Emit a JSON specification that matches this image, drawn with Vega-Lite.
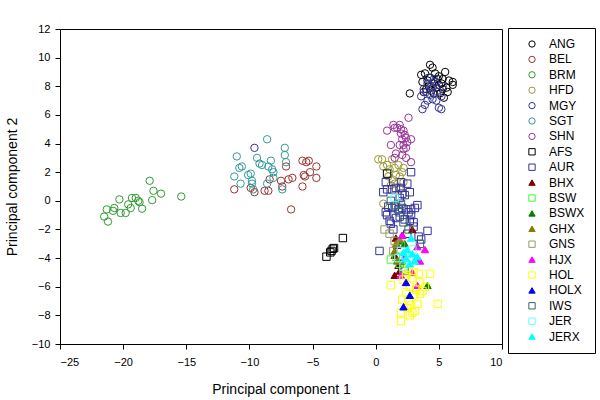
{
  "$schema": "https://vega.github.io/schema/vega-lite/v6.json",
  "width": 442,
  "height": 315,
  "autosize": {"type": "none"},
  "padding": {"left": 60, "top": 29, "right": 98, "bottom": 56},
  "background": "white",
  "config": {
    "font": "Liberation Sans",
    "view": {"stroke": "black", "strokeWidth": 1},
    "axis": {"grid": false, "domainColor": "black", "tickColor": "black", "labelColor": "black", "titleColor": "black", "labelFontSize": 11, "titleFontSize": 14, "titleFontWeight": "normal", "tickSize": 5, "labelPadding": 3}
  },
  "data": {"values": [
    {"breed":"ANG","pc1":3.6,"pc2":8.8},{"breed":"ANG","pc1":3.9,"pc2":8.9},{"breed":"ANG","pc1":4.1,"pc2":8.4},{"breed":"ANG","pc1":4.3,"pc2":9.5},{"breed":"ANG","pc1":4.5,"pc2":9.3},{"breed":"ANG","pc1":4.7,"pc2":8.9},{"breed":"ANG","pc1":5.0,"pc2":8.7},{"breed":"ANG","pc1":5.5,"pc2":9.0},{"breed":"ANG","pc1":5.3,"pc2":8.5},{"breed":"ANG","pc1":6.1,"pc2":8.3},{"breed":"ANG","pc1":6.1,"pc2":8.1},{"breed":"ANG","pc1":5.6,"pc2":7.9},{"breed":"ANG","pc1":5.3,"pc2":7.8},{"breed":"ANG","pc1":5.1,"pc2":7.5},{"breed":"ANG","pc1":4.8,"pc2":7.9},{"breed":"ANG","pc1":4.6,"pc2":8.2},{"breed":"ANG","pc1":4.0,"pc2":7.8},{"breed":"ANG","pc1":3.8,"pc2":7.6},{"breed":"ANG","pc1":4.4,"pc2":7.7},{"breed":"ANG","pc1":5.0,"pc2":8.1},{"breed":"ANG","pc1":5.8,"pc2":8.4},{"breed":"ANG","pc1":4.9,"pc2":8.5},{"breed":"ANG","pc1":5.4,"pc2":7.2},{"breed":"ANG","pc1":4.2,"pc2":8.0},{"breed":"ANG","pc1":5.2,"pc2":8.2},{"breed":"ANG","pc1":2.7,"pc2":7.5},{"breed":"ANG","pc1":3.7,"pc2":8.3},{"breed":"ANG","pc1":4.6,"pc2":7.5},{"breed":"ANG","pc1":5.7,"pc2":7.6},{"breed":"ANG","pc1":4.3,"pc2":8.6},
    {"breed":"BEL","pc1":-11.2,"pc2":0.8},{"breed":"BEL","pc1":-9.9,"pc2":0.9},{"breed":"BEL","pc1":-9.6,"pc2":0.6},{"breed":"BEL","pc1":-8.8,"pc2":0.7},{"breed":"BEL","pc1":-8.5,"pc2":0.7},{"breed":"BEL","pc1":-8.4,"pc2":1.5},{"breed":"BEL","pc1":-7.5,"pc2":1.4},{"breed":"BEL","pc1":-7.1,"pc2":2.4},{"breed":"BEL","pc1":-6.9,"pc2":1.5},{"breed":"BEL","pc1":-6.6,"pc2":1.6},{"breed":"BEL","pc1":-6.7,"pc2":-0.6},{"breed":"BEL","pc1":-5.8,"pc2":2.8},{"breed":"BEL","pc1":-5.7,"pc2":1.8},{"breed":"BEL","pc1":-5.5,"pc2":2.7},{"breed":"BEL","pc1":-5.3,"pc2":2.8},{"breed":"BEL","pc1":-5.2,"pc2":2.0},{"breed":"BEL","pc1":-5.8,"pc2":1.0},{"breed":"BEL","pc1":-5.6,"pc2":1.7},{"breed":"BEL","pc1":-4.7,"pc2":2.4},{"breed":"BEL","pc1":-4.7,"pc2":1.6},{"breed":"BEL","pc1":-7.4,"pc2":1.0},
    {"breed":"BRM","pc1":-21.5,"pc2":-1.1},{"breed":"BRM","pc1":-21.3,"pc2":-0.6},{"breed":"BRM","pc1":-21.2,"pc2":-1.45},{"breed":"BRM","pc1":-20.8,"pc2":-0.7},{"breed":"BRM","pc1":-20.7,"pc2":-0.5},{"breed":"BRM","pc1":-20.3,"pc2":0.1},{"breed":"BRM","pc1":-20.2,"pc2":-0.85},{"breed":"BRM","pc1":-19.8,"pc2":-0.85},{"breed":"BRM","pc1":-19.6,"pc2":-0.25},{"breed":"BRM","pc1":-19.4,"pc2":-0.5},{"breed":"BRM","pc1":-19.3,"pc2":0.2},{"breed":"BRM","pc1":-19.0,"pc2":0.2},{"breed":"BRM","pc1":-18.8,"pc2":0.0},{"breed":"BRM","pc1":-18.7,"pc2":-0.1},{"breed":"BRM","pc1":-18.5,"pc2":-0.55},{"breed":"BRM","pc1":-17.9,"pc2":1.4},{"breed":"BRM","pc1":-17.7,"pc2":0.05},{"breed":"BRM","pc1":-17.6,"pc2":0.7},{"breed":"BRM","pc1":-17.0,"pc2":0.5},{"breed":"BRM","pc1":-15.4,"pc2":0.3},
    {"breed":"HFD","pc1":0.2,"pc2":2.9},{"breed":"HFD","pc1":0.5,"pc2":2.9},{"breed":"HFD","pc1":0.6,"pc2":2.4},{"breed":"HFD","pc1":0.9,"pc2":2.5},{"breed":"HFD","pc1":1.1,"pc2":2.2},{"breed":"HFD","pc1":1.3,"pc2":2.9},{"breed":"HFD","pc1":1.5,"pc2":2.3},{"breed":"HFD","pc1":1.8,"pc2":2.5},{"breed":"HFD","pc1":2.2,"pc2":2.3},{"breed":"HFD","pc1":1.0,"pc2":1.7},{"breed":"HFD","pc1":1.3,"pc2":1.5},{"breed":"HFD","pc1":1.6,"pc2":1.8},{"breed":"HFD","pc1":1.9,"pc2":1.7},{"breed":"HFD","pc1":2.1,"pc2":2.0},{"breed":"HFD","pc1":1.2,"pc2":1.1},{"breed":"HFD","pc1":1.5,"pc2":1.2},{"breed":"HFD","pc1":0.6,"pc2":-0.2},{"breed":"HFD","pc1":1.9,"pc2":0.8},{"breed":"HFD","pc1":2.2,"pc2":1.3},
    {"breed":"MGY","pc1":3.7,"pc2":6.4},{"breed":"MGY","pc1":3.9,"pc2":6.7},{"breed":"MGY","pc1":4.1,"pc2":7.0},{"breed":"MGY","pc1":3.6,"pc2":7.3},{"breed":"MGY","pc1":3.8,"pc2":7.8},{"breed":"MGY","pc1":4.3,"pc2":7.4},{"breed":"MGY","pc1":4.5,"pc2":7.1},{"breed":"MGY","pc1":4.8,"pc2":7.0},{"breed":"MGY","pc1":5.0,"pc2":6.5},{"breed":"MGY","pc1":5.2,"pc2":6.4},{"breed":"MGY","pc1":5.2,"pc2":7.3},{"breed":"MGY","pc1":4.4,"pc2":8.0},{"breed":"MGY","pc1":4.7,"pc2":8.3},{"breed":"MGY","pc1":4.2,"pc2":8.6},{"breed":"MGY","pc1":4.6,"pc2":8.5},{"breed":"MGY","pc1":4.0,"pc2":7.6},{"breed":"MGY","pc1":5.3,"pc2":8.0},{"breed":"MGY","pc1":4.9,"pc2":7.6},{"breed":"MGY","pc1":4.5,"pc2":7.9},{"breed":"MGY","pc1":4.1,"pc2":8.2},{"breed":"MGY","pc1":-9.6,"pc2":3.7},
    {"breed":"SGT","pc1":-11.2,"pc2":1.7},{"breed":"SGT","pc1":-11.0,"pc2":3.1},{"breed":"SGT","pc1":-10.8,"pc2":2.3},{"breed":"SGT","pc1":-10.6,"pc2":2.4},{"breed":"SGT","pc1":-10.7,"pc2":1.2},{"breed":"SGT","pc1":-10.1,"pc2":1.8},{"breed":"SGT","pc1":-9.9,"pc2":1.9},{"breed":"SGT","pc1":-9.8,"pc2":1.4},{"breed":"SGT","pc1":-9.8,"pc2":1.2},{"breed":"SGT","pc1":-9.4,"pc2":3.0},{"breed":"SGT","pc1":-9.2,"pc2":2.6},{"breed":"SGT","pc1":-9.0,"pc2":2.5},{"breed":"SGT","pc1":-8.6,"pc2":4.3},{"breed":"SGT","pc1":-8.5,"pc2":2.4},{"breed":"SGT","pc1":-8.3,"pc2":2.8},{"breed":"SGT","pc1":-8.2,"pc2":2.2},{"breed":"SGT","pc1":-8.1,"pc2":2.0},{"breed":"SGT","pc1":-8.1,"pc2":1.6},{"breed":"SGT","pc1":-8.6,"pc2":1.2},{"breed":"SGT","pc1":-7.4,"pc2":0.8},{"breed":"SGT","pc1":-7.2,"pc2":3.7},{"breed":"SGT","pc1":-7.2,"pc2":3.2},{"breed":"SGT","pc1":-7.1,"pc2":2.7},{"breed":"SGT","pc1":-9.7,"pc2":0.8},
    {"breed":"SHN","pc1":2.6,"pc2":5.8},{"breed":"SHN","pc1":1.4,"pc2":5.3},{"breed":"SHN","pc1":1.5,"pc2":5.1},{"breed":"SHN","pc1":1.7,"pc2":5.1},{"breed":"SHN","pc1":1.9,"pc2":5.3},{"breed":"SHN","pc1":2.0,"pc2":5.0},{"breed":"SHN","pc1":2.2,"pc2":4.9},{"breed":"SHN","pc1":0.9,"pc2":4.9},{"breed":"SHN","pc1":2.0,"pc2":4.7},{"breed":"SHN","pc1":2.3,"pc2":4.6},{"breed":"SHN","pc1":2.4,"pc2":4.4},{"breed":"SHN","pc1":2.1,"pc2":4.3},{"breed":"SHN","pc1":2.5,"pc2":4.1},{"breed":"SHN","pc1":2.8,"pc2":4.3},{"breed":"SHN","pc1":1.2,"pc2":3.9},{"breed":"SHN","pc1":1.9,"pc2":3.9},{"breed":"SHN","pc1":2.2,"pc2":3.9},{"breed":"SHN","pc1":2.4,"pc2":3.7},{"breed":"SHN","pc1":2.2,"pc2":3.6},{"breed":"SHN","pc1":1.6,"pc2":3.3},{"breed":"SHN","pc1":2.4,"pc2":3.0},{"breed":"SHN","pc1":2.8,"pc2":2.7},{"breed":"SHN","pc1":1.5,"pc2":3.0},{"breed":"SHN","pc1":2.1,"pc2":3.2},
    {"breed":"AFS","pc1":-2.6,"pc2":-2.6},{"breed":"AFS","pc1":-3.3,"pc2":-3.3},{"breed":"AFS","pc1":-3.4,"pc2":-3.35},{"breed":"AFS","pc1":-3.5,"pc2":-3.5},{"breed":"AFS","pc1":-3.6,"pc2":-3.6},{"breed":"AFS","pc1":-3.9,"pc2":-3.9},{"breed":"AFS","pc1":0.9,"pc2":1.9},
    {"breed":"AUR","pc1":0.3,"pc2":-3.5},{"breed":"AUR","pc1":0.6,"pc2":0.6},{"breed":"AUR","pc1":0.8,"pc2":1.3},{"breed":"AUR","pc1":0.9,"pc2":0.8},{"breed":"AUR","pc1":1.3,"pc2":0.8},{"breed":"AUR","pc1":1.6,"pc2":0.9},{"breed":"AUR","pc1":2.0,"pc2":0.9},{"breed":"AUR","pc1":2.8,"pc2":2.0},{"breed":"AUR","pc1":2.0,"pc2":1.3},{"breed":"AUR","pc1":2.5,"pc2":1.2},{"breed":"AUR","pc1":2.7,"pc2":0.6},{"breed":"AUR","pc1":2.3,"pc2":0.4},{"breed":"AUR","pc1":0.8,"pc2":-0.8},{"breed":"AUR","pc1":1.0,"pc2":-0.4},{"breed":"AUR","pc1":1.3,"pc2":-0.5},{"breed":"AUR","pc1":1.5,"pc2":-0.4},{"breed":"AUR","pc1":1.8,"pc2":-0.6},{"breed":"AUR","pc1":2.1,"pc2":-0.5},{"breed":"AUR","pc1":2.4,"pc2":-0.6},{"breed":"AUR","pc1":2.6,"pc2":-0.8},{"breed":"AUR","pc1":2.8,"pc2":-0.6},{"breed":"AUR","pc1":3.1,"pc2":-0.5},{"breed":"AUR","pc1":3.3,"pc2":-0.3},{"breed":"AUR","pc1":1.1,"pc2":-1.4},{"breed":"AUR","pc1":1.2,"pc2":-1.6},{"breed":"AUR","pc1":1.6,"pc2":-1.2},{"breed":"AUR","pc1":1.9,"pc2":-1.1},{"breed":"AUR","pc1":2.3,"pc2":-1.3},{"breed":"AUR","pc1":2.7,"pc2":-1.4},{"breed":"AUR","pc1":3.0,"pc2":-1.5},{"breed":"AUR","pc1":3.0,"pc2":-1.8},{"breed":"AUR","pc1":1.4,"pc2":-2.0},{"breed":"AUR","pc1":2.5,"pc2":-2.3},{"breed":"AUR","pc1":3.4,"pc2":-2.5},{"breed":"AUR","pc1":4.1,"pc2":-2.1},{"breed":"AUR","pc1":3.6,"pc2":-2.7},{"breed":"AUR","pc1":2.1,"pc2":0.5},{"breed":"AUR","pc1":0.9,"pc2":-1.0},{"breed":"AUR","pc1":1.9,"pc2":0.2},{"breed":"AUR","pc1":2.8,"pc2":-1.0},
    {"breed":"BHX","pc1":1.5,"pc2":-5.2},{"breed":"BHX","pc1":1.6,"pc2":-2.6},{"breed":"BHX","pc1":1.7,"pc2":-3.1},{"breed":"BHX","pc1":1.5,"pc2":-3.8},{"breed":"BHX","pc1":1.8,"pc2":-4.5},{"breed":"BHX","pc1":2.1,"pc2":-2.4},{"breed":"BHX","pc1":2.9,"pc2":-2.0},{"breed":"BHX","pc1":1.9,"pc2":-4.9},
    {"breed":"BSW","pc1":1.2,"pc2":-4.1},{"breed":"BSW","pc1":1.6,"pc2":-3.9},{"breed":"BSW","pc1":2.2,"pc2":-4.8},{"breed":"BSW","pc1":1.9,"pc2":-4.4},
    {"breed":"BSWX","pc1":4.1,"pc2":-5.9},{"breed":"BSWX","pc1":2.3,"pc2":-3.0},{"breed":"BSWX","pc1":1.8,"pc2":-2.8},{"breed":"BSWX","pc1":2.1,"pc2":-4.2},
    {"breed":"GHX","pc1":1.5,"pc2":-3.5},{"breed":"GHX","pc1":1.7,"pc2":-4.2},{"breed":"GHX","pc1":1.9,"pc2":-2.7},{"breed":"GHX","pc1":1.6,"pc2":-3.0},
    {"breed":"GNS","pc1":0.7,"pc2":-2.0},{"breed":"GNS","pc1":1.1,"pc2":-2.3},{"breed":"GNS","pc1":1.4,"pc2":-3.5},{"breed":"GNS","pc1":1.8,"pc2":-4.0},{"breed":"GNS","pc1":1.5,"pc2":-2.8},{"breed":"GNS","pc1":2.3,"pc2":-4.9},{"breed":"GNS","pc1":2.0,"pc2":-3.0},
    {"breed":"HJX","pc1":2.1,"pc2":-2.4},{"breed":"HJX","pc1":3.3,"pc2":-3.2},{"breed":"HJX","pc1":3.9,"pc2":-3.4},{"breed":"HJX","pc1":2.3,"pc2":-3.9},{"breed":"HJX","pc1":3.5,"pc2":-4.2},{"breed":"HJX","pc1":2.0,"pc2":-5.2},{"breed":"HJX","pc1":3.3,"pc2":-5.9},{"breed":"HJX","pc1":2.9,"pc2":-5.0},{"breed":"HJX","pc1":3.2,"pc2":-4.0},
    {"breed":"HOL","pc1":1.2,"pc2":-5.9},{"breed":"HOL","pc1":2.0,"pc2":-7.8},{"breed":"HOL","pc1":2.0,"pc2":-8.4},{"breed":"HOL","pc1":2.4,"pc2":-6.4},{"breed":"HOL","pc1":2.6,"pc2":-7.0},{"breed":"HOL","pc1":2.8,"pc2":-7.3},{"breed":"HOL","pc1":2.9,"pc2":-7.8},{"breed":"HOL","pc1":3.1,"pc2":-7.7},{"breed":"HOL","pc1":3.3,"pc2":-7.2},{"breed":"HOL","pc1":3.5,"pc2":-6.5},{"breed":"HOL","pc1":3.7,"pc2":-6.3},{"breed":"HOL","pc1":3.4,"pc2":-5.1},{"breed":"HOL","pc1":4.3,"pc2":-5.1},{"breed":"HOL","pc1":4.9,"pc2":-7.2},{"breed":"HOL","pc1":2.2,"pc2":-5.5},{"breed":"HOL","pc1":2.7,"pc2":-6.0},{"breed":"HOL","pc1":3.0,"pc2":-6.6},{"breed":"HOL","pc1":2.5,"pc2":-7.5},{"breed":"HOL","pc1":3.2,"pc2":-6.2},{"breed":"HOL","pc1":2.9,"pc2":-5.4},{"breed":"HOL","pc1":2.1,"pc2":-6.9},{"breed":"HOL","pc1":2.7,"pc2":-8.0},{"breed":"HOL","pc1":3.5,"pc2":-5.7},{"breed":"HOL","pc1":2.4,"pc2":-5.2},{"breed":"HOL","pc1":3.0,"pc2":-5.0},{"breed":"HOL","pc1":2.6,"pc2":-4.8},{"breed":"HOL","pc1":3.9,"pc2":-6.0},
    {"breed":"HOLX","pc1":2.2,"pc2":-7.4},{"breed":"HOLX","pc1":2.7,"pc2":-6.6},{"breed":"HOLX","pc1":2.4,"pc2":-5.7},
    {"breed":"IWS","pc1":1.2,"pc2":0.0},{"breed":"IWS","pc1":1.6,"pc2":-0.3},{"breed":"IWS","pc1":1.9,"pc2":-0.8},{"breed":"IWS","pc1":2.2,"pc2":-1.5},{"breed":"IWS","pc1":2.6,"pc2":-2.0},{"breed":"IWS","pc1":3.5,"pc2":-3.0},{"breed":"IWS","pc1":2.0,"pc2":-0.2},
    {"breed":"JER","pc1":1.5,"pc2":0.2},{"breed":"JER","pc1":2.0,"pc2":-3.5},{"breed":"JER","pc1":2.3,"pc2":-3.8},{"breed":"JER","pc1":2.6,"pc2":-4.2},{"breed":"JER","pc1":2.2,"pc2":-4.6},{"breed":"JER","pc1":2.9,"pc2":-3.4},{"breed":"JER","pc1":1.8,"pc2":-4.0},
    {"breed":"JERX","pc1":2.8,"pc2":-2.6},{"breed":"JERX","pc1":2.5,"pc2":-3.4},{"breed":"JERX","pc1":2.9,"pc2":-3.7},{"breed":"JERX","pc1":3.1,"pc2":-4.2},{"breed":"JERX","pc1":2.7,"pc2":-4.4},{"breed":"JERX","pc1":2.4,"pc2":-4.0},{"breed":"JERX","pc1":3.3,"pc2":-3.9},{"breed":"JERX","pc1":2.2,"pc2":-3.6}
  ]},
  "mark": {"type": "point", "size": 55, "strokeWidth": 1, "opacity": 1},
  "encoding": {
    "x": {"field": "pc1", "type": "quantitative", "title": "Principal component 1",
      "scale": {"domain": [-25, 10], "nice": false, "zero": false},
      "axis": {"values": [-25, -20, -15, -10, -5, 0, 5, 10], "labelPadding": 7, "titlePadding": 15}},
    "y": {"field": "pc2", "type": "quantitative", "title": "Principal component 2",
      "scale": {"domain": [-10, 12], "nice": false, "zero": false},
      "axis": {"values": [-10, -8, -6, -4, -2, 0, 2, 4, 6, 8, 10, 12], "labelPadding": 5, "titlePadding": 12}},
    "stroke": {"field": "breed", "type": "nominal", "title": null,
      "scale": {"domain": ["ANG","BEL","BRM","HFD","MGY","SGT","SHN","AFS","AUR","BHX","BSW","BSWX","GHX","GNS","HJX","HOL","HOLX","IWS","JER","JERX"],
        "range": ["#000000","#993333","#339933","#999933","#333399","#339999","#993399","#000000","#333399","#800000","#33ff33","#008000","#808000","#999966","#ff00ff","#ffff00","#0000ff","#336666","#66ffff","#00ffff"]}},
    "fill": {"field": "breed", "type": "nominal", "title": null,
      "scale": {"domain": ["ANG","BEL","BRM","HFD","MGY","SGT","SHN","AFS","AUR","BHX","BSW","BSWX","GHX","GNS","HJX","HOL","HOLX","IWS","JER","JERX"],
        "range": ["transparent","transparent","transparent","transparent","transparent","transparent","transparent","transparent","transparent","#800000","transparent","#008000","#808000","transparent","#ff00ff","transparent","#0000ff","transparent","transparent","#00ffff"]}},
    "shape": {"field": "breed", "type": "nominal", "title": null,
      "scale": {"domain": ["ANG","BEL","BRM","HFD","MGY","SGT","SHN","AFS","AUR","BHX","BSW","BSWX","GHX","GNS","HJX","HOL","HOLX","IWS","JER","JERX"],
        "range": ["circle","circle","circle","circle","circle","circle","circle","square","square","triangle-up","square","triangle-up","triangle-up","square","triangle-up","square","triangle-up","square","square","triangle-up"]},
      "legend": {"orient": "none", "legendX": 448, "legendY": -1, "strokeColor": "black", "padding": 10, "rowPadding": 3.4, "labelFontSize": 12, "labelColor": "black", "symbolSize": 40, "symbolOffset": 8, "labelOffset": 11, "symbolStrokeWidth": 1, "fillColor": "white"}}
  }
}
